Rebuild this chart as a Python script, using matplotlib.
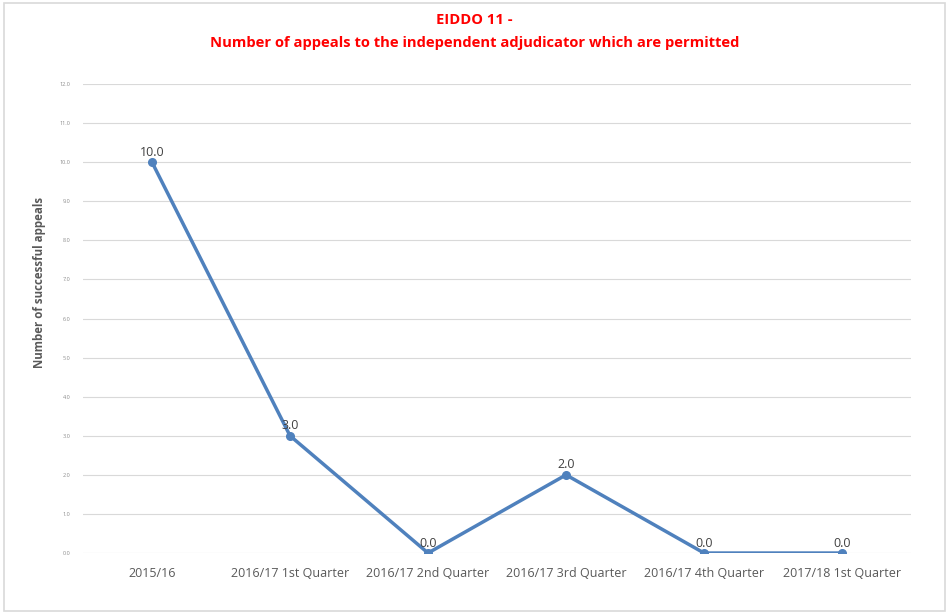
import matplotlib.pyplot as plt
from matplotlib.patches import Rectangle

# Data
categories = ["2015/16", "2016/17 1st Quarter", "2016/17 2nd Quarter",
              "2016/17 3rd Quarter", "2016/17 4th Quarter", "2017/18 1st Quarter"]
appeals = [10.0, 3.0, 0.0, 2.0, 0.0, 0.0]
y_ticks = [0, 1, 2, 3, 4, 5, 6, 7, 8, 9, 10, 11, 12]

plt.rcParams['font.family'] = ['Open Sans', 'DejaVu Sans']

fig = plt.figure(figsize=(9.49, 6.14), dpi=100)
ax = fig.add_axes([0.0875, 0.0993, 0.8725, 0.7637])

# outer border of the chart
fig.patches.append(Rectangle((0.004, 0.005), 0.992, 0.99, transform=fig.transFigure,
                             fill=False, edgecolor="#d9d9d9", linewidth=1.2))

x = list(range(len(categories)))
ax.plot(x, appeals, color="#4f81bd", linewidth=2.5, marker="o", markersize=5.5)

for xi, v in zip(x, appeals):
    ax.annotate("%.1f" % v, (xi, v), xytext=(0, 2.5), textcoords="offset points",
                ha="center", va="bottom", fontsize=9, color="#404040")

ax.set_xlim(-0.5, len(categories) - 0.5)
ax.set_ylim(0, 12)
ax.set_yticks(y_ticks)
ax.set_yticklabels(["%.1f" % t for t in y_ticks], fontsize=4, color="#8c8c8c")
ax.set_xticks(x)
ax.set_xticklabels(categories, fontsize=9, color="#595959")
ax.tick_params(axis="both", length=0)
ax.tick_params(axis="x", pad=10)
ax.tick_params(axis="y", pad=9)
ax.grid(axis="y", color="#d9d9d9", linewidth=0.8)
ax.set_axisbelow(True)
for s in ax.spines.values():
    s.set_visible(False)

ax.set_ylabel("Number of successful appeals", fontsize=8.3, fontweight="bold",
              color="#595959")
ax.yaxis.set_label_coords(-0.045, 0.578)

fig.text(0.5, 0.968, "EIDDO 11 -", ha="center", va="center",
         fontsize=10.6, fontweight="bold", color="#ff0000")
fig.text(0.5, 0.930, "Number of appeals to the independent adjudicator which are permitted",
         ha="center", va="center", fontsize=10.6, fontweight="bold", color="#ff0000")

fig.savefig("out.png", dpi=100)
